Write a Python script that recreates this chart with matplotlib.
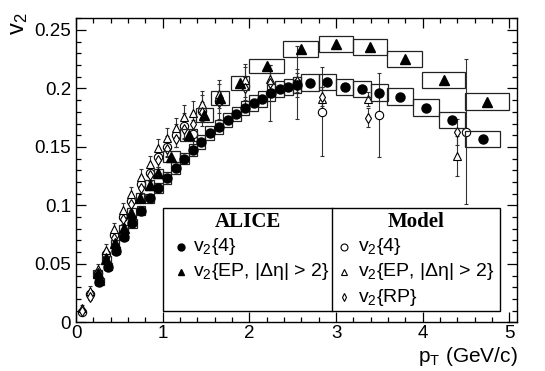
import matplotlib.pyplot as plt
from matplotlib.patches import Rectangle
from matplotlib.ticker import MultipleLocator

plt.rcParams['font.family'] = ['Liberation Sans', 'DejaVu Sans']
plt.rcParams['mathtext.default'] = 'regular'

# ALICE v2{4}
alice4_pt = [0.27, 0.37, 0.46, 0.55, 0.65, 0.75, 0.85, 0.95, 1.05, 1.15, 1.25, 1.35,
             1.44, 1.54, 1.65, 1.75, 1.85, 1.95, 2.05, 2.15, 2.25, 2.35, 2.45, 2.55,
             2.7, 2.9, 3.1, 3.3, 3.5, 3.74, 4.04, 4.34, 4.69]
alice4_v2 = [0.0347, 0.0476, 0.0613, 0.0732, 0.0847, 0.0955, 0.106, 0.115, 0.1237,
             0.1317, 0.140, 0.1474, 0.1545, 0.1617, 0.1673, 0.173, 0.178, 0.1833,
             0.1878, 0.191, 0.1964, 0.1996, 0.2015, 0.203, 0.205, 0.2053, 0.201,
             0.1996, 0.1964, 0.193, 0.1837, 0.173, 0.157]
alice4_sys = [0.003, 0.003, 0.003, 0.003, 0.004, 0.004, 0.004, 0.004, 0.005, 0.005,
              0.005, 0.005, 0.006, 0.006, 0.006, 0.006, 0.006, 0.006, 0.007, 0.007,
              0.007, 0.007, 0.007, 0.007, 0.007, 0.007, 0.007, 0.007, 0.007, 0.007,
              0.007, 0.007, 0.007]
alice4_bw = [0.05] * 24 + [0.1, 0.1, 0.1, 0.1, 0.1, 0.15, 0.15, 0.15, 0.2]

# ALICE v2{EP, |deta| > 2}
aliceep_pt = [0.25, 0.35, 0.45, 0.55, 0.64, 0.74, 0.85, 0.95, 1.1, 1.3, 1.48, 1.66,
              1.89, 2.2, 2.59, 3.0, 3.39, 3.79, 4.24, 4.74]
aliceep_v2 = [0.0419, 0.0539, 0.0676, 0.0804, 0.0938, 0.1066, 0.1175, 0.1275, 0.1417,
              0.160, 0.177, 0.1916, 0.2045, 0.219, 0.2335, 0.238, 0.2352, 0.225,
              0.2073, 0.1887]
aliceep_sys = [0.003, 0.003, 0.003, 0.003, 0.004, 0.004, 0.004, 0.004, 0.005, 0.005,
               0.006, 0.006, 0.006, 0.006, 0.007, 0.007, 0.007, 0.007, 0.007, 0.007]
aliceep_bw = [0.05] * 8 + [0.1, 0.1, 0.1, 0.1, 0.1, 0.2, 0.2, 0.2, 0.2, 0.2, 0.25, 0.25]

# Model
model_pt = [0.07, 0.16, 0.25, 0.35, 0.44, 0.54, 0.64, 0.75, 0.85, 0.95, 1.05, 1.15,
            1.25, 1.35, 1.45, 1.65, 1.95, 2.24, 2.55, 2.84, 3.37, 4.4]
model4_pt = [0.07, 0.16, 0.25, 0.35, 0.44, 0.54, 0.64, 0.75, 0.85, 0.95, 1.05, 1.15,
             1.25, 1.35, 1.45, 1.65, 1.95, 2.24, 2.55, 2.84, 3.5, 4.5]
model4_v2 = [0.009, 0.024, 0.042, 0.058, 0.075, 0.090, 0.104, 0.118, 0.128, 0.141,
             0.150, 0.160, 0.168, 0.161, 0.181, 0.189, 0.202, 0.196, 0.205, 0.180,
             0.177, 0.163]
model4_err = [0.003, 0.004, 0.004, 0.005, 0.005, 0.006, 0.006, 0.007, 0.007, 0.008,
              0.009, 0.010, 0.011, 0.012, 0.013, 0.015, 0.016, 0.024, 0.031, 0.038,
              0.036, 0.062]
modelep_v2 = [0.012, 0.027, 0.046, 0.062, 0.080, 0.096, 0.110, 0.124, 0.135, 0.149,
              0.158, 0.166, 0.176, 0.179, 0.187, 0.195, 0.207, 0.208, 0.207, 0.191,
              0.191, 0.142]
modelep_err = [0.003, 0.004, 0.004, 0.005, 0.005, 0.006, 0.006, 0.007, 0.007, 0.008,
               0.008, 0.009, 0.010, 0.010, 0.011, 0.012, 0.014, 0.012, 0.010, 0.010,
               0.006, 0.017]
modelrp_v2 = [0.010, 0.022, 0.039, 0.055, 0.072, 0.088, 0.101, 0.115, 0.126, 0.139,
              0.148, 0.157, 0.165, 0.170, 0.180, 0.188, 0.200, 0.205, 0.203, 0.193,
              0.175, 0.163]
modelrp_err = [0.002, 0.003, 0.003, 0.004, 0.004, 0.004, 0.005, 0.005, 0.005, 0.006,
               0.006, 0.007, 0.007, 0.008, 0.008, 0.009, 0.010, 0.010, 0.010, 0.008,
               0.008, 0.011]

fig = plt.figure(figsize=(5.45, 3.71), dpi=100)
ax = fig.add_axes([76 / 545, 1 - 322.3 / 371, 441.3 / 545, 304 / 371])

ebkw = dict(ls='none', ecolor='#333333', elinewidth=0.8, capsize=1.5, capthick=0.8, zorder=2)
ax.errorbar(model4_pt, model4_v2, yerr=model4_err, marker='o', ms=6, mfc='white',
            mec='black', mew=0.8, **ebkw)
ax.errorbar(model_pt, modelep_v2, yerr=modelep_err, marker='^', ms=6, mfc='white',
            mec='black', mew=0.8, **ebkw)
ax.errorbar(model_pt, modelrp_v2, yerr=modelrp_err, marker='d', ms=5, mfc='white',
            mec='black', mew=0.8, **ebkw)

for pt, v, s, w in zip(alice4_pt, alice4_v2, alice4_sys, alice4_bw):
    ax.add_patch(Rectangle((pt - w, v - s), 2 * w, 2 * s, fill=False,
                           ec='#222222', lw=0.9, zorder=3))
for pt, v, s, w in zip(aliceep_pt, aliceep_v2, aliceep_sys, aliceep_bw):
    ax.add_patch(Rectangle((pt - w, v - s), 2 * w, 2 * s, fill=False,
                           ec='#222222', lw=0.9, zorder=3))
ax.plot(alice4_pt, alice4_v2, 'o', color='black', ms=6.5, zorder=4)
ax.plot(aliceep_pt, aliceep_v2, '^', color='black', ms=6.5, zorder=4)

ax.set_xlim(0, 5.09)
ax.set_ylim(0, 0.26)
ax.xaxis.set_major_locator(MultipleLocator(1))
ax.xaxis.set_minor_locator(MultipleLocator(0.2))
ax.yaxis.set_major_locator(MultipleLocator(0.05))
ax.yaxis.set_minor_locator(MultipleLocator(0.01))
ax.set_yticks([0, 0.05, 0.1, 0.15, 0.2, 0.25], ['0', '0.05', '0.1', '0.15', '0.2', '0.25'])
ax.tick_params(which='both', direction='in', top=True, right=True, labelsize=13.5)
ax.tick_params(which='major', length=7, width=0.9)
ax.tick_params(which='minor', length=3.5, width=0.9)
ax.tick_params(axis='x', pad=2)
for s in ax.spines.values():
    s.set_linewidth(1)

fig.text(0.035, 0.965, 'v$_2$', rotation=90, ha='center', va='top', fontsize=17)
fig.text(517.3 / 545, 1 - 356 / 371, 'p$_T$ (GeV/c)', ha='right', va='center', fontsize=15)

# legend
tr = ax.transAxes
ax.add_patch(Rectangle((0.198, 0.038), 0.763, 0.339, transform=tr, fill=False,
                       ec='black', lw=1, zorder=5))
ax.plot([0.581, 0.581], [0.038, 0.377], transform=tr, color='black', lw=1, zorder=5)
ax.text(0.39, 0.33, 'ALICE', transform=tr, ha='center', va='center',
        family='Liberation Serif', weight='bold', fontsize=15)
ax.text(0.771, 0.33, 'Model', transform=tr, ha='center', va='center',
        family='Liberation Serif', weight='bold', fontsize=15)
rows = [0.249, 0.166, 0.083]
ax.plot([0.238], [rows[0]], 'o', color='black', ms=5, transform=tr, zorder=6)
ax.plot([0.238], [rows[1]], '^', color='black', ms=5, transform=tr, zorder=6)
ax.text(0.265, rows[0], 'v$_2${4}', transform=tr, va='center', fontsize=14)
ax.text(0.265, rows[1], 'v$_2${EP, |Δη| > 2}', transform=tr, va='center', fontsize=14)
ax.plot([0.607], [rows[0]], 'o', mfc='white', mec='black', mew=0.8, ms=5, transform=tr, zorder=6)
ax.plot([0.607], [rows[1]], '^', mfc='white', mec='black', mew=0.8, ms=5, transform=tr, zorder=6)
ax.plot([0.607], [rows[2]], 'd', mfc='white', mec='black', mew=0.8, ms=4, transform=tr, zorder=6)
ax.text(0.639, rows[0], 'v$_2${4}', transform=tr, va='center', fontsize=14)
ax.text(0.639, rows[1], 'v$_2${EP, |Δη| > 2}', transform=tr, va='center', fontsize=14)
ax.text(0.639, rows[2], 'v$_2${RP}', transform=tr, va='center', fontsize=14)

fig.savefig('out.png', dpi=100)
